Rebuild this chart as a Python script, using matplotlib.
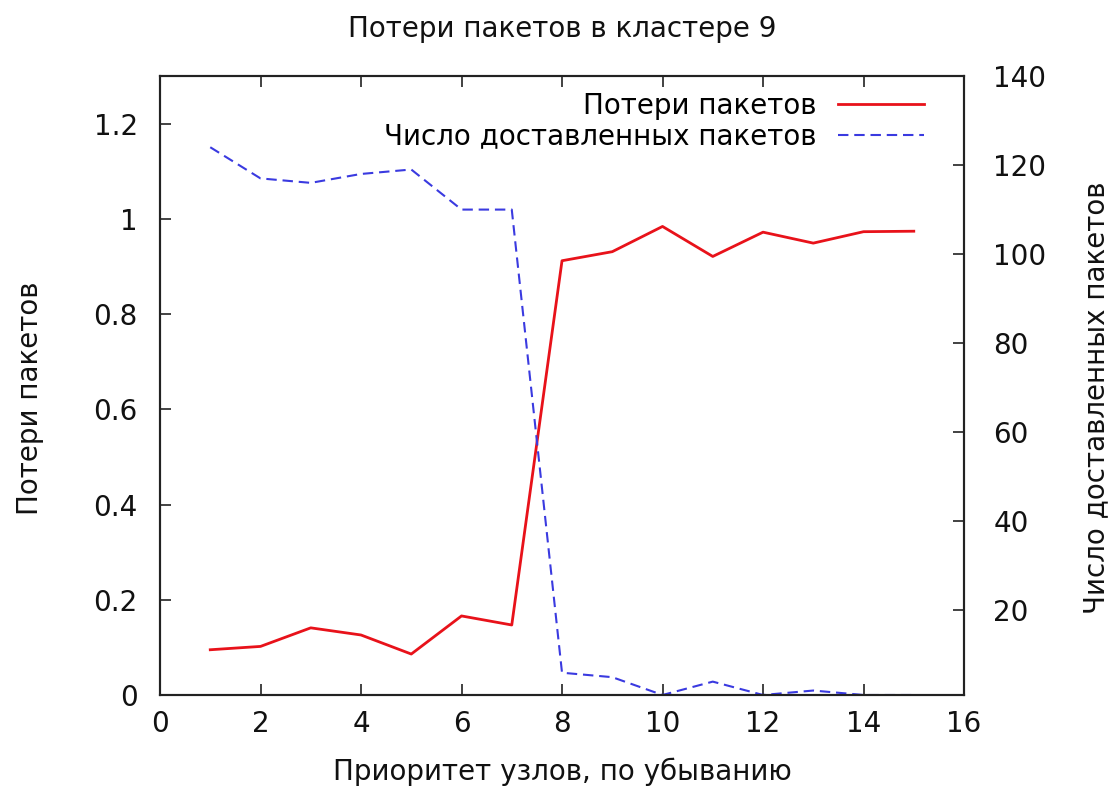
import matplotlib
matplotlib.use("Agg")
import matplotlib.pyplot as plt
from matplotlib.ticker import FuncFormatter

plt.rcParams["font.family"] = ["DejaVu Sans"]

# priority of nodes (x) and the two measured series
priority = [1, 2, 3, 4, 5, 6, 7, 8, 9, 10, 11, 12, 13, 14, 15]
loss = [0.095, 0.102, 0.141, 0.126, 0.086, 0.166, 0.147,
        0.912, 0.931, 0.984, 0.921, 0.972, 0.949, 0.973, 0.974]
delivered = [124, 117, 116, 118, 119, 110, 110, 6, 5, 1, 4, 1, 2, 1, 1]

x_ticks = [0, 2, 4, 6, 8, 10, 12, 14, 16]
y1_ticks = [0, 0.2, 0.4, 0.6, 0.8, 1.0, 1.2]
y2_ticks = [20, 40, 60, 80, 100, 120, 140]

FS = 20

fig = plt.figure(figsize=(11.15, 7.94), dpi=100)
ax = fig.add_axes([0.1435, 0.1247, 0.8646 - 0.1435, 0.9043 - 0.1247])
ax2 = ax.twinx()

l1, = ax.plot(priority, loss, color="#e8121a", lw=2.0, label="Потери пакетов")
l2, = ax2.plot(priority, delivered, color="#3a3ae0", lw=1.5, ls=(0, (5, 2.8)),
               label="Число доставленных пакетов")

ax.set_xlim(0, 16)
ax.set_ylim(0, 1.3)
ax2.set_ylim(1, 140)

ax.set_xticks(x_ticks)
ax.set_yticks(y1_ticks)
ax2.set_yticks(y2_ticks)
ax.yaxis.set_major_formatter(FuncFormatter(lambda v, p: f"{v:g}"))

ax.tick_params(axis="x", direction="in", length=8, width=1.2, top=True,
               labelsize=FS, pad=11, colors="#222222", labelcolor="#111111")
ax.tick_params(axis="y", direction="in", length=8, width=1.2, right=False,
               labelsize=FS, pad=16, colors="#222222", labelcolor="#111111")
ax2.tick_params(axis="y", direction="in", length=8, width=1.2, left=False,
                labelsize=FS, pad=21, colors="#222222", labelcolor="#111111")

for a in (ax, ax2):
    for s in a.spines.values():
        s.set_linewidth(1.5)
        s.set_color("#222222")

ax.set_xlabel("Приоритет узлов, по убыванию", fontsize=FS, labelpad=14, color="#111111")
ax.set_ylabel("Потери пакетов", fontsize=FS, labelpad=36, color="#111111")
ax2.set_ylabel("Число доставленных пакетов", fontsize=FS, labelpad=26, color="#111111")
ax.yaxis.label.set_y(0.48)
ax2.yaxis.label.set_y(0.48)
ax.set_title("Потери пакетов в кластере 9", fontsize=FS, pad=28, color="#111111")

ax2.legend(handles=[l1, l2], loc="upper right", frameon=False, fontsize=FS,
           markerfirst=False, handlelength=3.1, handletextpad=0.8,
           labelspacing=0.1, borderaxespad=0.3, bbox_to_anchor=(0.975, 1.006))

fig.savefig("out.png", dpi=100)
